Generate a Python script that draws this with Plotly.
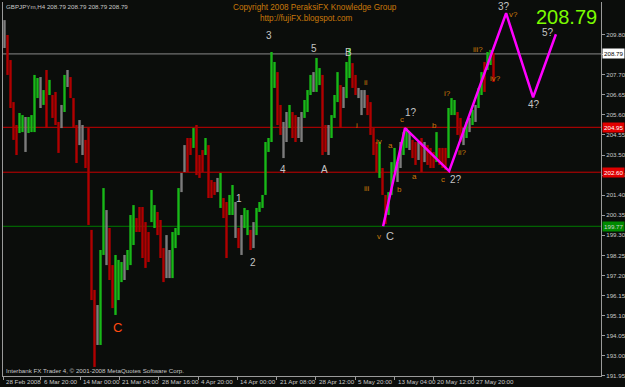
import plotly.graph_objects as go

# ---------------- data ----------------
bar_high = [
    210.56, 209.78, 208.47, 206.27, 205.07, 205.70, 205.59, 205.49, 205.49, 205.59,
    207.69, 207.53, 207.58, 206.90, 207.95, 207.43, 206.64, 206.80, 205.23, 206.12,
    207.69, 207.95, 207.58, 206.48, 205.07, 205.33, 205.07, 204.29, 204.91, 199.58,
    196.44, 195.65, 198.53, 201.77, 200.62, 199.68, 197.74, 198.27, 198.01, 197.90,
    198.27, 198.53, 200.36, 200.88, 200.20, 200.78, 200.78, 199.99, 199.47, 201.67,
    200.88, 200.52, 200.10, 198.63, 199.31, 198.53, 199.47, 199.68, 201.77, 202.56,
    204.02, 204.39, 204.39, 204.91, 205.07, 203.50, 203.76, 204.39, 204.02, 202.19,
    202.09, 202.30, 202.56, 201.25, 201.04, 201.41, 201.93, 201.04, 199.68, 200.36,
    200.73, 200.62, 199.58, 199.99, 200.73, 201.04, 201.41, 204.18, 204.39, 208.89,
    208.37, 207.84, 206.12, 205.23, 205.75, 206.12, 205.75, 205.59, 205.49, 205.75,
    206.38, 206.90, 207.69, 207.84, 208.58, 208.05, 207.69, 205.07, 205.07, 205.59,
    206.64, 207.84, 207.16, 207.06, 208.37, 209.10, 208.31, 207.69, 207.01, 206.90,
    206.90, 206.64, 206.27, 204.91, 204.18, 204.18, 202.82, 201.41, 201.56, 203.13,
    203.87, 203.13, 204.18, 204.70, 204.91, 204.70, 204.29, 204.18, 204.18, 204.39,
    204.18, 204.02, 203.87, 203.66, 204.70, 203.87, 203.87, 203.87, 205.96, 206.48,
    206.38, 205.75, 205.44, 204.91, 205.23, 205.44, 205.86, 206.12, 207.01, 207.84,
    208.37, 208.89, 209.00, 208.84,
]
bar_low = [
    209.10, 207.69, 205.96, 204.29, 203.50, 204.65, 204.70, 203.66, 204.65, 204.70,
    204.70, 206.48, 205.96, 206.12, 204.91, 206.64, 205.44, 205.07, 203.61, 204.91,
    205.75, 207.06, 206.48, 204.91, 203.08, 204.02, 203.50, 202.82, 199.84, 195.91,
    192.41, 193.56, 193.56, 198.27, 197.74, 196.96, 195.49, 195.13, 195.91, 196.85,
    196.96, 197.48, 197.74, 198.79, 199.47, 199.47, 198.11, 197.59, 197.90, 199.99,
    199.68, 199.31, 198.11, 196.85, 197.06, 197.06, 197.06, 198.63, 199.31, 201.56,
    202.61, 202.61, 203.50, 203.87, 202.45, 202.30, 202.61, 203.50, 201.25, 201.25,
    201.41, 201.56, 200.73, 200.20, 198.11, 200.36, 200.36, 199.16, 198.63, 198.27,
    199.68, 199.31, 198.53, 198.63, 199.31, 200.52, 200.73, 201.41, 203.66, 204.18,
    207.01, 205.07, 204.55, 203.34, 204.18, 204.91, 204.39, 204.18, 204.39, 204.18,
    205.44, 205.75, 206.64, 206.80, 206.80, 207.16, 203.50, 203.66, 203.50, 204.39,
    205.44, 206.27, 204.91, 205.96, 206.48, 207.53, 207.01, 206.64, 206.48, 205.59,
    205.96, 205.59, 204.55, 203.50, 202.61, 202.30, 201.41, 199.89, 200.36, 201.41,
    202.61, 202.09, 202.82, 203.50, 203.87, 203.76, 203.34, 202.98, 203.24, 202.61,
    203.13, 202.98, 202.82, 202.82, 203.13, 202.98, 202.82, 202.72, 203.34, 205.59,
    205.59, 204.55, 204.18, 204.02, 204.39, 204.70, 205.07, 205.23, 205.96, 206.64,
    206.80, 207.95, 208.21, 207.32,
]
# g = up (green), r = down (red), n = neutral (gray)
bar_dir = list(
    "nrrrrggngg" "ggngrgrrrn" "gnrrrnnrrr" "rnggnrrggg" "ngggrrrrrg"
    "grrrnngggn" "nrrgrrrgrr" "rngrrggnrn" "ggrngggggg" "grrnngrrnn"
    "gggnggrrng" "ggrnggrrnn" "nrrrrgrrgg" "gnnggnrrnr" "nrrrgrrrgg"
    "grrngngngg" "rggr"
)

# date labels on the time axis and the bar index where each one sits
date_labels = ["28 Feb 2008", "6 Mar 20:00", "14 Mar 00:00", "21 Mar 04:00",
               "28 Mar 16:00", "4 Apr 20:00", "14 Apr 00:00", "21 Apr 08:00",
               "28 Apr 12:00", "5 May 20:00", "13 May 04:00", "20 May 12:00",
               "27 May 20:00"]
date_index = [-0.5, 12.1, 25.2, 38.3, 51.4, 64.5, 77.6, 90.7, 103.8, 116.9,
              130.0, 143.1, 156.2]

# Elliott-wave projection (bar index, price)
wave_index = [126.2, 133.5, 148.2, 167.2, 176.2, 183.8]
wave_price = [199.77, 204.91, 202.66, 210.92, 206.52, 209.82]

# horizontal levels
level_prices = [208.79, 204.95, 202.60, 199.77]
last_price = 208.79

# price-axis ticks (the 208.75 label is hidden behind the last-price box)
price_ticks = [round(191.95 + 1.05 * i, 2) for i in range(18)]
price_ticktext = ["" if abs(v - 208.75) < 0.01 else "%.2f" % v for v in price_ticks]

# wave labels: text, bar index, price, kind
wave_labels = [
    ("3", 88.2, 209.73, "w"), ("5", 103.2, 209.05, "w"), ("B", 114.8, 208.84, "w"),
    ("4", 92.8, 202.72, "w"), ("A", 106.8, 202.72, "w"), ("1", 78.2, 201.25, "w"),
    ("2", 82.8, 197.90, "w"), ("1?", 135.5, 205.70, "w"), ("2?", 150.4, 202.24, "w"),
    ("C", 128.4, 199.26, "w"), ("3?", 166.5, 211.25, "w"), ("4?", 176.5, 206.12, "w"),
    ("5?", 181.2, 209.93, "w"),
    ("ii", 120.5, 207.27, "o"), ("i", 117.5, 205.07, "o"), ("iii", 120.8, 201.77, "o"),
    ("iv", 124.8, 204.23, "o"), ("a", 128.8, 204.02, "o"), ("c", 132.5, 205.38, "o"),
    ("b", 143.2, 205.07, "o"), ("ii?", 152.5, 203.61, "o"), ("i?", 147.8, 206.74, "o"),
    ("iii?", 157.8, 209.00, "o"), ("iv?", 163.8, 207.48, "o"), ("v?", 169.8, 210.83, "o"),
    ("a", 136.5, 202.35, "o"), ("b", 131.5, 201.72, "o"), ("c", 146.2, 202.24, "o"),
    ("v", 124.8, 199.26, "o"),
]

# ---------------- figure ----------------
FONT = "Liberation Sans"
BG = "#0b0d0b"
col_map = {"g": "#18b818", "r": "#b00000", "n": "#7c7c7c"}
idx = list(range(len(bar_high)))

fig = go.Figure()
fig.add_trace(go.Bar(
    x=idx, y=[h - l for h, l in zip(bar_high, bar_low)], base=bar_low,
    width=0.8, marker=dict(color=[col_map[d] for d in bar_dir], line_width=0),
    hoverinfo="skip", showlegend=False))

level_colors = ["#8a8a8a", "#c80000", "#c80000", "#007a00"]
for p, c in zip(level_prices, level_colors):
    fig.add_shape(type="line", xref="paper", x0=0, x1=1, y0=p, y1=p,
                  line=dict(color=c, width=1), layer="below")

fig.add_trace(go.Scatter(x=wave_index, y=wave_price, mode="lines",
                         line=dict(color="#ff00ff", width=2.5),
                         hoverinfo="skip", showlegend=False))

ann = []
for t, k, p, kind in wave_labels:
    if kind == "w":
        ann.append(dict(x=k, y=p, xref="x", yref="y", text=t, showarrow=False,
                        font=dict(family=FONT, size=11 if t == "C" else 10, color="#c4c4c4")))
    else:
        ann.append(dict(x=k, y=p, xref="x", yref="y", text=t, showarrow=False,
                        font=dict(family=FONT, size=8, color="#c8780a")))
ann.append(dict(x=37.8, y=194.45, xref="x", yref="y", text="C", showarrow=False,
                font=dict(family=FONT, size=13, color="#ff4a10")))

# price boxes on the right axis
box_style = [("#ffffff", "#000000"), ("#e00000", "#ffffff"),
             ("#e00000", "#ffffff"), ("#008a00", "#d0d0d0")]
for p, (bg, fc) in zip(level_prices, box_style):
    ann.append(dict(x=1, y=p, xref="paper", yref="y", xanchor="left", xshift=1,
                    text="%.2f" % p, showarrow=False, bgcolor=bg, borderpad=1,
                    font=dict(family=FONT, size=6.2, color=fc)))

for lab, k in zip(date_labels, date_index):
    ann.append(dict(x=k, y=-0.0134, xref="x", yref="paper", xanchor="left",
                    yanchor="middle", xshift=1, text=lab, showarrow=False,
                    font=dict(family=FONT, size=6.2, color="#c8c8c8")))

ann += [
    dict(x=0.943, y=0.961, xref="paper", yref="paper", xanchor="center", yanchor="middle",
         text="%.2f" % last_price, showarrow=False,
         font=dict(family=FONT, size=20, color="#7cfc00")),
    dict(x=0.002, y=0.989, xref="paper", yref="paper", xanchor="left", yanchor="middle",
         text="GBPJPYm,H4 208.79 208.79 208.79 208.79", showarrow=False,
         font=dict(family=FONT, size=6.2, color="#c8c8c8")),
    dict(x=0.521, y=0.986, xref="paper", yref="paper", xanchor="center", yanchor="middle",
         text="Copyright 2008 PeraksiFX Knowledge Group", showarrow=False,
         font=dict(family=FONT, size=8.2, color="#c8780a")),
    dict(x=0.507, y=0.957, xref="paper", yref="paper", xanchor="center", yanchor="middle",
         text="http://fujiFX.blogspot.com", showarrow=False,
         font=dict(family=FONT, size=8.2, color="#c8780a")),
    dict(x=0.002, y=0.016, xref="paper", yref="paper", xanchor="left", yanchor="middle",
         text="Interbank FX Trader 4, © 2001-2008 MetaQuotes Software Corp.", showarrow=False,
         font=dict(family=FONT, size=6.2, color="#c8c8c8")),
]

fig.update_layout(
    width=625, height=387, margin=dict(l=3, r=24, t=2, b=11),
    paper_bgcolor=BG, plot_bgcolor=BG, showlegend=False, annotations=ann,
    xaxis=dict(range=[-0.5, 198.83], tickvals=date_index, showticklabels=False,
               ticks="outside", ticklen=3, tickcolor="#9a9a9a", showgrid=False,
               zeroline=False, showline=True, linecolor="#9a9a9a", linewidth=1,
               automargin=False, fixedrange=True),
    yaxis=dict(range=[191.936, 211.507], side="right", tickvals=price_ticks,
               ticktext=price_ticktext, ticks="outside", ticklen=3,
               tickcolor="#9a9a9a", tickfont=dict(family=FONT, size=6.2, color="#c8c8c8"),
               showgrid=False, zeroline=False, showline=True, linecolor="#9a9a9a",
               linewidth=1, mirror=True, automargin=False, fixedrange=True),
)

fig.write_html("out.html")
